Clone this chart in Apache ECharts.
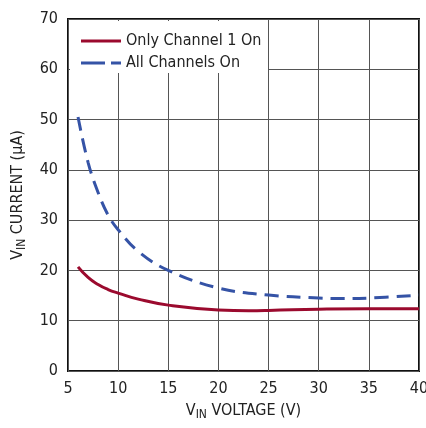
<!DOCTYPE html>
<html>
<head>
<meta charset="utf-8">
<script src="https://cdn.jsdelivr.net/npm/echarts@6/dist/echarts.min.js"></script>
<style>
  html, body { margin: 0; padding: 0; background: #fff; }
  #chart { width: 426px; height: 428px; }
</style>
</head>
<body>
<div id="chart"></div>
<script>
// values
const xTicks = [5, 10, 15, 20, 25, 30, 35, 40];
const ch1Volt = [6, 7, 8, 9, 10, 12, 15, 20, 23, 25, 30, 35, 40];
const ch1Curr = [20.7, 18.6, 17.2, 16.2, 15.5, 14.3, 13.1, 12.15, 12.0, 12.05, 12.3, 12.4, 12.4];
const allVolt = [6, 7, 8, 9, 10, 12, 15, 20, 25, 30, 32, 35, 40];
const allCurr = [50.5, 41.5, 35.5, 31.0, 28.1, 23.8, 20.0, 16.5, 15.1, 14.5, 14.4, 14.5, 15.1];

const font = '"Liberation Sans Narrow", "DejaVu Sans Condensed", "Liberation Sans", sans-serif';
const red = '#9b0a2e';
const blue = '#3553a6';

const pairs = (xs, ys) => xs.map((x, i) => [x, ys[i]]);

const chart = echarts.init(document.getElementById('chart'));
chart.setOption({
  animation: false,
  textStyle: { fontFamily: font },
  grid: {
    left: 68, right: 7, top: 19, bottom: 57,
    show: true, borderColor: '#111', borderWidth: 2,
    containLabel: false, outerBoundsMode: 'none'
  },
  legend: {
    left: 76, top: 28, orient: 'vertical',
    itemWidth: 40, itemHeight: 10, itemGap: 6,
    z: 20,
    textStyle: { fontFamily: font, fontSize: 16, color: '#222' },
    data: [
      { name: 'Only Channel 1 On', icon: 'path://M0,0H40V3H0Z' },
      { name: 'All Channels On', icon: 'path://M0,0H24V3H0ZM30,0H40V3H30Z' }
    ]
  },
  graphic: [{
    type: 'rect', z: 10,
    shape: { x: 70, y: 21, width: 198, height: 52 },
    style: { fill: '#fff' }
  }],
  xAxis: {
    type: 'value', min: 5, max: 40, interval: 5,
    name: '{n|V}{s|IN}{n| VOLTAGE (V)}',
    nameLocation: 'middle', nameGap: 30,
    nameTextStyle: {
      rich: {
        n: { fontFamily: font, fontSize: 16, color: '#222' },
        s: { fontFamily: font, fontSize: 12, color: '#222', verticalAlign: 'bottom', padding: [8, 0, 0, 0] }
      }
    },
    axisLine: { show: false },
    axisTick: { show: false },
    axisLabel: { fontSize: 16, color: '#222', margin: 10, fontFamily: font },
    splitLine: { show: true, lineStyle: { color: '#555', width: 1 } }
  },
  yAxis: {
    type: 'value', min: 0, max: 70, interval: 10,
    name: '{n|V}{s|IN}{n| CURRENT (µA)}',
    nameLocation: 'middle', nameGap: 40, nameRotate: 90,
    nameTextStyle: {
      rich: {
        n: { fontFamily: font, fontSize: 16, color: '#222' },
        s: { fontFamily: font, fontSize: 12, color: '#222', verticalAlign: 'bottom', padding: [8, 0, 0, 0] }
      }
    },
    axisLine: { show: false },
    axisTick: { show: false },
    axisLabel: { fontSize: 16, color: '#222', margin: 10, fontFamily: font },
    splitLine: { show: true, lineStyle: { color: '#555', width: 1 } }
  },
  series: [
    {
      name: 'Only Channel 1 On', type: 'line', smooth: 0.5, symbol: 'none',
      color: red, z: 5,
      lineStyle: { color: red, width: 3 },
      data: pairs(ch1Volt, ch1Curr)
    },
    {
      name: 'All Channels On', type: 'line', smooth: 0.4, symbol: 'none',
      color: blue, z: 5,
      lineStyle: { color: blue, width: 3, type: [14, 8] },
      data: pairs(allVolt, allCurr)
    }
  ]
});
</script>
</body>
</html>
